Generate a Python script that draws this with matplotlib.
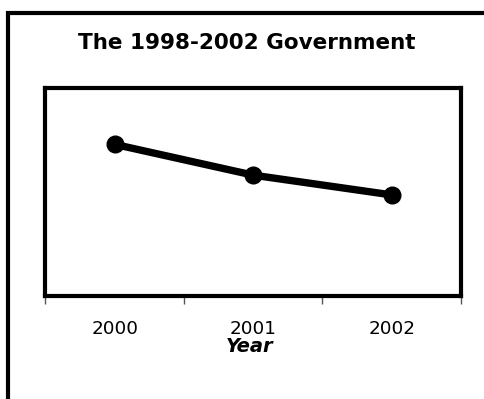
import matplotlib
matplotlib.use("Agg")
import matplotlib.pyplot as plt
from matplotlib.patches import Rectangle

# data (no y scale shown, so values are relative)
years = ["2000", "2001", "2002"]
values = [72.9, 58.1, 48.6]

TITLE = "The 1998-2002 Government"
XLABEL = "Year"

fig = plt.figure(figsize=(4.85, 3.99), dpi=100)

# outer chart-area frame (runs off the right and bottom edges)
frame = Rectangle((8.5 / 485, -0.2), 1.5, 1.2 - 13 / 399,
                  transform=fig.transFigure, fill=False,
                  edgecolor="black", linewidth=3.0, clip_on=False)
fig.patches.append(frame)

ax = fig.add_axes([45.5 / 485, 1 - 296 / 399, 415.5 / 485, 208 / 399])

x = list(range(len(years)))
ax.plot(x, values, color="black", linewidth=5.3, marker="o",
        markersize=12, solid_capstyle="round")

ax.set_xlim(-0.5, len(years) - 0.5)
ax.set_ylim(0, 100)
ax.set_yticks([])

for s in ax.spines.values():
    s.set_linewidth(3.0)
    s.set_color("black")

ax.set_xticks(x)
ax.set_xticklabels(years, fontsize=13.2)
ax.tick_params(axis="x", length=0, pad=17)
ax.set_xticks([i - 0.5 for i in range(len(years) + 1)], minor=True)
ax.tick_params(axis="x", which="minor", length=6, width=1, color="#555555",
               direction="out")

fig.text(247 / 485, 1 - 43 / 399, TITLE, ha="center", va="center",
         fontsize=15.5, fontweight="bold")
fig.text(250 / 485, 1 - 346 / 399, XLABEL, ha="center", va="center",
         fontsize=14, fontweight="bold", style="italic")

fig.savefig("out.png", dpi=100)
